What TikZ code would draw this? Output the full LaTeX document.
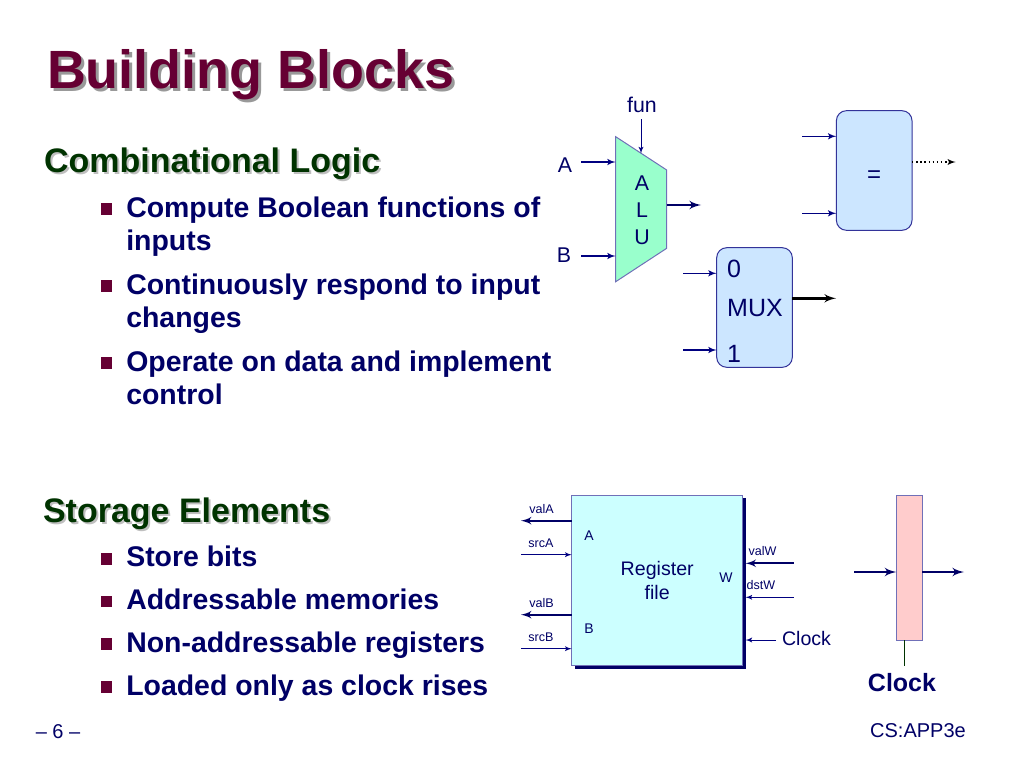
\documentclass[tikz,border=0pt]{standalone}
\usepackage{fontspec}
\setmainfont{Liberation Sans}
\usetikzlibrary{shapes,arrows,positioning,calc,shadows}
\definecolor{navy}{HTML}{000066}
\definecolor{wire}{HTML}{000080}
\definecolor{maroon}{HTML}{660033}
\definecolor{forest}{HTML}{003300}
\definecolor{edge}{HTML}{333399}
\definecolor{boxblue}{HTML}{CCE6FF}
\definecolor{regcyan}{HTML}{CCFFFF}
\definecolor{alugreen}{HTML}{99FFCC}
\definecolor{statepink}{HTML}{FFCCCC}
\begin{document}
\begin{tikzpicture}[x=0.75pt, y=-0.75pt, inner sep=0pt, outer sep=0pt]
\tikzstyle{title} = [anchor=base west, text=maroon, font=\fontsize{40.4}{48}\selectfont\bfseries]
\tikzstyle{titleshade} = [title, text=black!40]
\tikzstyle{heading} = [anchor=base west, text=forest, font=\fontsize{25.5}{30}\selectfont\bfseries]
\tikzstyle{headshade} = [heading, text=black!25]
\tikzstyle{item} = [anchor=base west, align=left, text=navy, font=\fontsize{21.33}{25.6}\selectfont\bfseries]
\tikzstyle{bullet} = [rectangle, fill=maroon, minimum size=8.7pt]
\tikzstyle{label} = [anchor=base, text=navy, font=\fontsize{16}{20}\selectfont]
\tikzstyle{biglabel} = [label, font=\fontsize{18.75}{22}\selectfont]
\tikzstyle{midlabel} = [label, font=\fontsize{14.7}{18}\selectfont]
\tikzstyle{portlabel} = [label, font=\fontsize{10.5}{12}\selectfont]
\tikzstyle{siglabel} = [label, font=\fontsize{9.4}{12}\selectfont]
\tikzstyle{footer} = [label, font=\fontsize{15}{18}\selectfont, text=navy]
\tikzstyle{block} = [rectangle, draw=edge, line width=0.75pt, rounded corners=7.5pt, fill=boxblue, minimum width=56.7pt, minimum height=89.7pt]
\tikzstyle{regblock} = [rectangle, draw=edge!70, line width=0.75pt, fill=regcyan, text=navy, align=center, minimum width=128.25pt, minimum height=127.7pt, font=\fontsize{14.7}{18}\selectfont, drop shadow={opacity=1, fill=navy, shadow xshift=2.5pt, shadow yshift=-2.5pt}]
\tikzstyle{stateblock} = [rectangle, draw=edge!70, line width=0.75pt, fill=statepink, minimum width=19.3pt, minimum height=109pt]
\tikzstyle{line} = [draw=wire, line width=1.2pt, -latex']
\tikzstyle{thin} = [draw=wire, line width=0.75pt, -latex']
\tikzstyle{bus} = [draw=navy, line width=2pt, -latex']
\tikzstyle{blackbus} = [draw=black, line width=2pt, -latex']

% slide text
\node [titleshade] (titleback) at (50,91.2) {Building Blocks};
\node [title] (title) at (47,88.2) {Building Blocks};
\node [headshade] (combback) at (46,174.7) {Combinational Logic};
\node [heading] (comb) at (44,172.7) {Combinational Logic};
\node [headshade] (storeback) at (45,524.7) {Storage Elements};
\node [heading] (store) at (43,522.7) {Storage Elements};

\node [item] (compute) at (126.3,250) {Compute Boolean functions of\\[-1.5pt]inputs};
\node [item] (respond) at (126.3,327) {Continuously respond to input\\[-1.5pt]changes};
\node [item] (operate) at (126.3,404) {Operate on data and implement\\[-1.5pt]control};
\node [item] (bits) at (126.3,566.5) {Store bits};
\node [item] (memories) at (126.3,609.5) {Addressable memories};
\node [item] (registers) at (126.3,652) {Non-addressable registers};
\node [item] (rises) at (126.3,695) {Loaded only as clock rises};
\node [bullet] (b1) at (106.5,209) {};
\node [bullet] (b2) at (106.5,286) {};
\node [bullet] (b3) at (106.5,363) {};
\node [bullet] (b4) at (106.5,559) {};
\node [bullet] (b5) at (106.5,601.5) {};
\node [bullet] (b6) at (106.5,644) {};
\node [bullet] (b7) at (106.5,687) {};

\node [footer] (page) at (58,738) {-- 6 --};
\node [footer] (course) at (918,737) {CS:APP3e};

% ALU
\coordinate (aluTL) at (615.7,136.7);
\coordinate (aluTR) at (666.7,170);
\coordinate (aluBR) at (666.7,248.3);
\coordinate (aluBL) at (615.7,281.7);
\coordinate (aluTop) at (641,153.5);
\draw [draw=edge!70, line width=0.75pt, fill=alugreen] (aluTL) -- (aluTR) -- (aluBR) -- (aluBL) -- cycle;
\node [label, anchor=center, align=center, font=\fontsize{16}{20.25}\selectfont] (alu) at (642,210) {A\\L\\U};
\node [label] (fun) at (642,113) {fun};
\node [label] (inA) at (565,172) {A};
\node [label] (inB) at (564,262) {B};
\coordinate (funIn) at (641,119);
\coordinate (aIn) at (581,162);
\coordinate (bIn) at (581,256);
\coordinate (aluOut) at (701,205);
\path [thin] (funIn) -- (aluTop);
\path [line] (aIn) -- (aIn -| aluTL);
\path [line] (bIn) -- (bIn -| aluBL);
\path [bus] (aluOut -| aluTR) -- (aluOut);

% comparator
\node [block] (eqbox) at (874.2,170.5) {};
\node [label, font=\fontsize{18}{22}\selectfont] (eq) at (874,182) {=};
\coordinate (eqInA) at (802.3,136.3);
\coordinate (eqInB) at (802.3,213.3);
\coordinate (eqOut) at (955.7,162);
\path [line] (eqInA) -- (eqInA -| eqbox.west);
\path [line] (eqInB) -- (eqInB -| eqbox.west);
\path [draw=black, line width=1.1pt, dotted, -latex'] (eqOut -| eqbox.east) -- (eqOut);

% mux
\node [block] (muxbox) at (754.5,307.5) {};
\node [biglabel] (zero) at (734,277.7) {0};
\node [biglabel] (mux) at (755,316.7) {MUX};
\node [biglabel] (one) at (734,362.7) {1};
\coordinate (muxInA) at (683,273.3);
\coordinate (muxInB) at (683,350);
\coordinate (muxOut) at (836,298.3);
\path [line] (muxInA) -- (muxInA -| muxbox.west);
\path [line] (muxInB) -- (muxInB -| muxbox.west);
\path [blackbus] (muxOut -| muxbox.east) -- (muxOut);

% register file
\node [regblock] (regbox) at (657.2,580.2) {Register\\file};
\node [portlabel] (portA) at (589,540) {A};
\node [portlabel] (portB) at (589,633.7) {B};
\node [portlabel] (portW) at (726,582.3) {W};
\node [siglabel] (valA) at (541.5,513.3) {valA};
\node [siglabel] (srcA) at (541,547.3) {srcA};
\node [siglabel] (valB) at (541.5,607.3) {valB};
\node [siglabel] (srcB) at (541,641) {srcB};
\node [siglabel] (valW) at (762.5,555.7) {valW};
\node [siglabel] (dstW) at (761,589.7) {dstW};
\node [midlabel] (regclock) at (806.5,645.3) {Clock};
\coordinate (valAOut) at (521,520.7);
\coordinate (srcAIn) at (521,554.7);
\coordinate (valBOut) at (521,614.7);
\coordinate (srcBIn) at (521,648.7);
\coordinate (valWIn) at (793.7,563.3);
\coordinate (dstWIn) at (793.7,597.3);
\coordinate (clockIn) at (776,640);
\coordinate (regEdge) at (745.5,580);
\path [bus, line width=1.7pt] (valAOut -| regbox.west) -- (valAOut);
\path [thin] (srcAIn) -- (srcAIn -| regbox.west);
\path [bus, line width=1.7pt] (valBOut -| regbox.west) -- (valBOut);
\path [thin] (srcBIn) -- (srcBIn -| regbox.west);
\path [bus, line width=1.7pt] (valWIn) -- (valWIn -| regEdge);
\path [thin] (dstWIn) -- (dstWIn -| regEdge);
\path [thin] (clockIn) -- (clockIn -| regEdge);

% register
\node [stateblock] (state) at (909.2,567.7) {};
\node [label, font=\fontsize{18.75}{22}\selectfont\bfseries] (clock) at (902,691) {Clock};
\coordinate (stateIn) at (854,572);
\coordinate (stateOut) at (964,572);
\coordinate (stem) at (904.7,665.7);
\path [bus] (stateIn) -- (stateIn -| state.west);
\path [bus] (stateOut -| state.east) -- (stateOut);
\draw [draw=forest, line width=1.1pt] (stem |- state.south) -- (stem);

\useasboundingbox (0,0) rectangle (1024,767);
\end{tikzpicture}
\end{document}
